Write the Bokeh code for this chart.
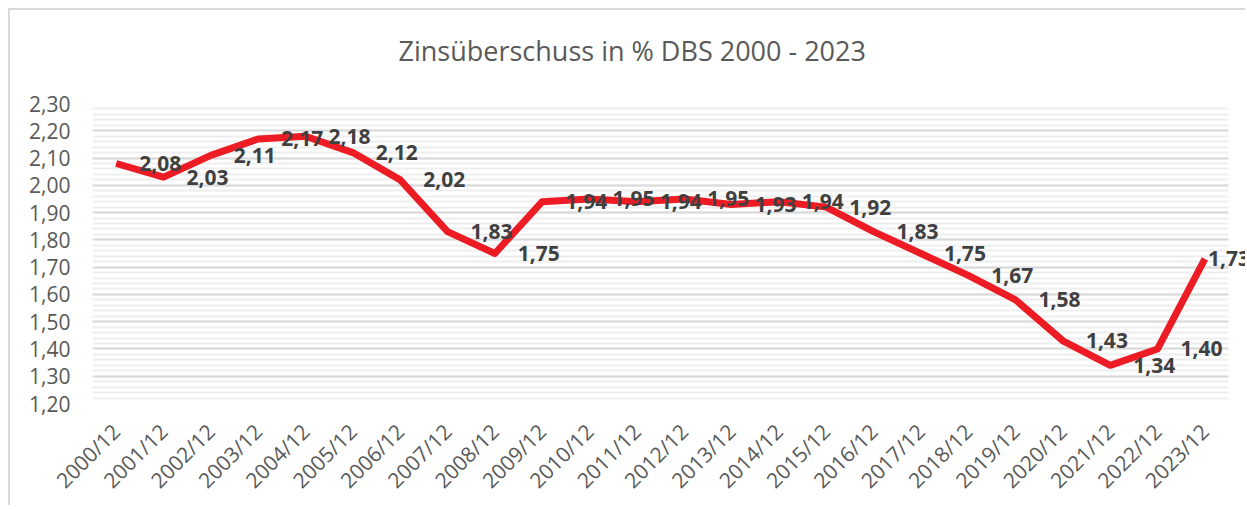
import math
from bokeh.plotting import figure
from bokeh.models import (ColumnDataSource, LabelSet, FixedTicker, BoxAnnotation,
                          CustomJSTickFormatter, Range1d, Title)
from bokeh.core.properties import value
from bokeh.embed import file_html
from bokeh.resources import INLINE

categories = ["2000/12", "2001/12", "2002/12", "2003/12", "2004/12", "2005/12",
              "2006/12", "2007/12", "2008/12", "2009/12", "2010/12", "2011/12",
              "2012/12", "2013/12", "2014/12", "2015/12", "2016/12", "2017/12",
              "2018/12", "2019/12", "2020/12", "2021/12", "2022/12", "2023/12"]
values = [2.08, 2.03, 2.11, 2.17, 2.18, 2.12, 2.02, 1.83, 1.75, 1.94, 1.95, 1.94,
          1.95, 1.93, 1.94, 1.92, 1.83, 1.75, 1.67, 1.58, 1.43, 1.34, 1.40, 1.73]
labels = [f"{v:.2f}".replace(".", ",") for v in values]

Y_MIN, Y_MAX = 1.20, 2.30
major_ticks = [round(Y_MIN + 0.1 * i, 2) for i in range(12)]
minor_ticks = [round(Y_MIN + 0.02 * i, 2) for i in range(56)]

# category slots: centre of slot i is at i + 0.5
n = len(categories)
xs = [i + 0.5 for i in range(n)]
x_overrides = {x: c for x, c in zip(xs, categories)}

FONT = "Open Sans"

p = figure(x_range=Range1d(0, n + 0.4),
           y_range=Range1d(Y_MIN, Y_MAX),
           width=1237, height=497, output_backend="svg", toolbar_location=None,
           min_border_left=82, min_border_right=0, min_border_top=93,
           min_border_bottom=104)
p.styles = {"margin-left": "8px", "margin-top": "8px",
            "border-top": "2px solid #d9d9d9", "border-left": "2px solid #d9d9d9"}

p.title.text = "Zinsüberschuss in % DBS 2000 - 2023"
p.title.text_font = FONT
p.title.text_font_size = "27px"
p.title.text_font_style = "normal"
p.title.text_color = "#595959"
p.title.align = "left"
p.title.offset = 306
p.title.vertical_align = "top"
p.title.standoff = 0

# invisible spacer between the title and the plot area
p.add_layout(Title(text=" ", text_font_size="10px", standoff=20), "above")

p.outline_line_color = None
p.background_fill_color = "white"
p.border_fill_color = "white"

p.xgrid.grid_line_color = None
p.yaxis.ticker = FixedTicker(ticks=major_ticks, minor_ticks=minor_ticks)
p.ygrid.grid_line_color = "#d9d9d9"
p.ygrid.grid_line_width = 2
p.ygrid.minor_grid_line_color = "#eeeeee"
p.ygrid.minor_grid_line_width = 2

# hide gridlines in the overflow area right of the last category slot
p.add_layout(BoxAnnotation(left=n, fill_color="white", fill_alpha=1,
                           line_color=None, level="underlay"))

p.xaxis.ticker = FixedTicker(ticks=xs)
p.xaxis.major_label_overrides = x_overrides
p.yaxis.formatter = CustomJSTickFormatter(code="return tick.toFixed(2).replace('.', ',');")
for ax in (p.xaxis, p.yaxis):
    ax.axis_line_color = None
    ax.major_tick_line_color = None
    ax.minor_tick_line_color = None
    ax.major_tick_out = 0
    ax.minor_tick_out = 0
    ax.major_label_text_font = FONT
    ax.major_label_text_font_size = "21px"
    ax.major_label_text_color = "#595959"
p.yaxis.major_label_standoff = 22
p.xaxis.major_label_orientation = math.pi / 4
p.xaxis.major_label_standoff = 24

src = ColumnDataSource(dict(x=xs, y=values, t=labels))
p.line("x", "y", source=src, line_color="#ED1C24", line_width=7, line_join="round")

src_main = ColumnDataSource(dict(x=xs[:-1], y=values[:-1], t=labels[:-1]))
src_last = ColumnDataSource(dict(x=xs[-1:], y=values[-1:], t=labels[-1:]))
for s, off in ((src_main, 23), (src_last, 3)):
    ls = LabelSet(x="x", y="y", text="t", source=s, x_offset=off, y_offset=0,
                  text_font=value(FONT), text_font_size="21px",
                  text_font_style="bold", text_color="#404040",
                  text_align="left", text_baseline="middle")
    p.add_layout(ls)

open("out.html", "w").write(file_html(p, INLINE))
